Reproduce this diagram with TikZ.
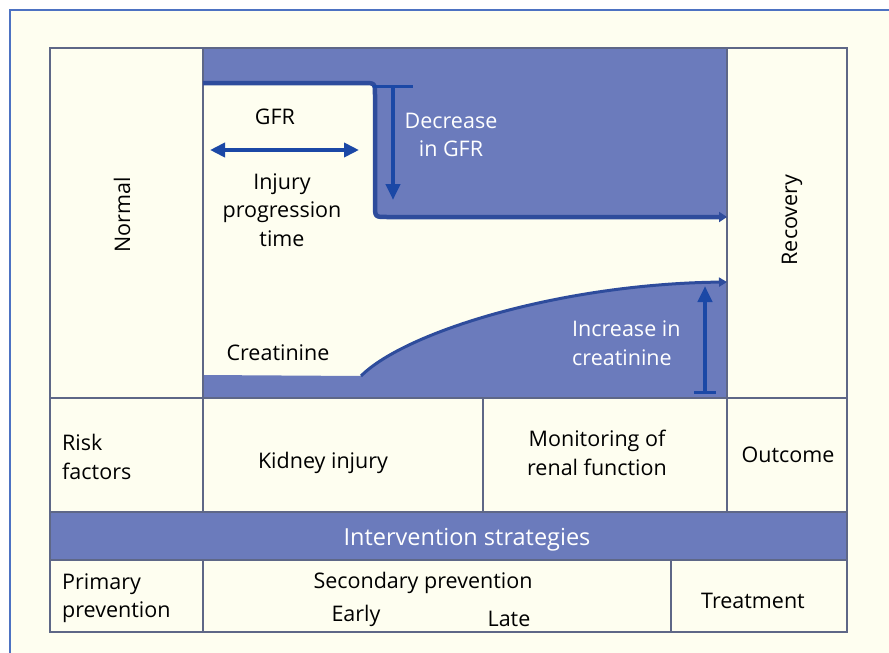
\documentclass[tikz,border=0pt]{standalone}
\usepackage{fontspec}
\setmainfont{Open Sans}
\usetikzlibrary{arrows.meta}
\definecolor{cream}{HTML}{FEFEF0}
\definecolor{fillblue}{HTML}{6B7BBC}
\definecolor{lineblue}{HTML}{2E4C9C}
\definecolor{arrowblue}{HTML}{1B48A6}
\definecolor{gridgray}{HTML}{5E6787}
\definecolor{frameblue}{HTML}{4D72C2}
\begin{document}
\begin{tikzpicture}[x=1pt,y=-1pt,
  lbl/.style={font=\fontsize{21.5}{28.5}\selectfont, text=black, inner sep=0pt, align=center},
  wlbl/.style={lbl, text=white},
  gridline/.style={draw=gridgray, line width=2.2pt},
  gfrline/.style={draw=lineblue, line width=4.5pt, -{Triangle[length=8pt,width=10pt]}},
  crline/.style={draw=lineblue, line width=3pt, -{Triangle[length=8pt,width=9pt]}},
  downarrow/.style={draw=arrowblue, line width=4.5pt, {Bar[width=40pt,line width=3pt]}-{Triangle[length=16pt,width=14pt]}},
  uparrow/.style={draw=arrowblue, line width=4.5pt, {Bar[width=22pt,line width=3pt]}-{Triangle[length=16pt,width=14pt]}},
  dblarrow/.style={draw=arrowblue, line width=4.5pt, {Triangle[length=15pt,width=14pt]}-{Triangle[length=15pt,width=14pt]}}
]
\useasboundingbox (0,0) rectangle (889,653);
\fill[white] (0,0) rectangle (889,653);
\fill[cream] (10,10) rectangle (889,653);
\draw[frameblue, line width=1.2pt] (10,653) -- (10,10) -- (889,10);
\fill[cream] (50,48) rectangle (847,632);
% GFR region
\fill[fillblue] (203,48) -- (727,48) -- (727,217) -- (387,217) .. controls (375,217) .. (375,205) -- (375,95) .. controls (375,83) .. (363,83) -- (203,83) -- cycle;
% creatinine region
\fill[fillblue] (203,375) -- (361,376) .. controls (405,332) and (560,284) .. (727,282) -- (727,398) -- (203,398) -- cycle;
% intervention band
\fill[fillblue] (50,512) rectangle (847,560);
% grid
\draw[gridline] (50,48) rectangle (847,632);
\draw[gridline] (203,48) -- (203,512);
\draw[gridline] (203,560) -- (203,632);
\draw[gridline] (727,48) -- (727,512);
\draw[gridline] (50,398) -- (847,398);
\draw[gridline] (50,512) -- (847,512);
\draw[gridline] (50,560) -- (847,560);
\draw[gridline] (483,398) -- (483,512);
\draw[gridline] (671,560) -- (671,632);
% curves
\coordinate (g0) at (203,83);
\coordinate (g1) at (727,217);
\draw[gfrline] (g0) -- (363,83) .. controls (375,83) .. (375,95) -- (375,205) .. controls (375,217) .. (387,217) -- (g1);
\coordinate (c0) at (361,376);
\coordinate (c1) at (727,282);
\draw[crline] (c0) .. controls (405,332) and (560,284) .. (c1);
% arrows
\coordinate (da) at (393,85);
\coordinate (db) at (393,200);
\draw[downarrow] (da) -- (db);
\coordinate (ua) at (705,394);
\coordinate (ub) at (705,286);
\draw[uparrow] (ua) -- (ub);
\coordinate (la) at (210,150);
\coordinate (lb) at (359,150);
\draw[dblarrow] (la) -- (lb);
% labels
\node[lbl] (gfr) at (275,117) {GFR};
\node[lbl] (ipt) at (282,210) {Injury\\progression\\time};
\node[wlbl] (dec) at (451,135) {Decrease\\in GFR};
\node[lbl] (cre) at (278,353) {Creatinine};
\node[wlbl, align=left, anchor=west] (inc) at (572,343) {Increase in\\creatinine};
\node[lbl, rotate=90] (normal) at (122,215) {Normal};
\node[lbl, rotate=90] (recovery) at (792,220) {Recovery};
\node[lbl, align=left, anchor=west] (risk) at (62,457) {Risk\\factors};
\node[lbl] (kid) at (323,463) {Kidney injury};
\node[lbl] (mon) at (597,453) {Monitoring of\\renal function};
\node[lbl] (out) at (788,455) {Outcome};
\node[wlbl, font=\fontsize{23.5}{28.5}\selectfont] (int) at (467,540) {Intervention strategies};
\node[lbl, align=left, anchor=west] (prim) at (62,598) {Primary\\prevention};
\node[lbl] (sec) at (423,583) {Secondary prevention};
\node[lbl] (early) at (356,616) {Early};
\node[lbl] (late) at (509,619) {Late};
\node[lbl] (treat) at (753,601) {Treatment};
\end{tikzpicture}
\end{document}
